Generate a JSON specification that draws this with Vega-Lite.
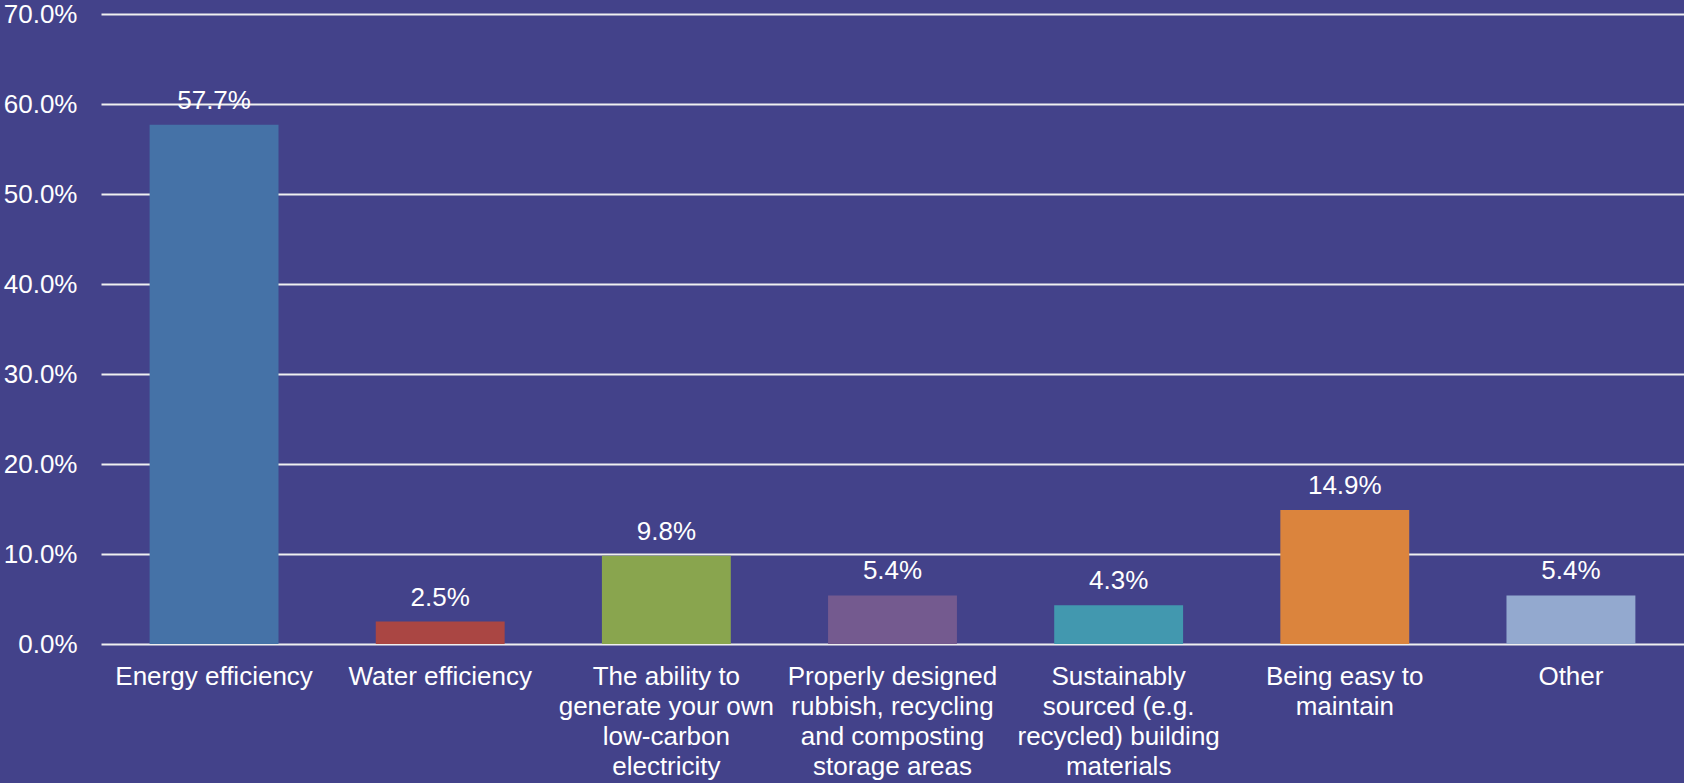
{
  "$schema": "https://vega.github.io/schema/vega-lite/v6.json",
  "width": 1583,
  "height": 630,
  "autosize": {"type": "none"},
  "padding": {"left": 101, "top": 14, "right": 0, "bottom": 139},
  "background": "#43428a",
  "config": {
    "view": {"stroke": null},
    "font": "Liberation Sans",
    "axis": {"labelColor": "#ffffff", "labelFontSize": 26, "labelFont": "Liberation Sans", "titleColor": "#ffffff"}
  },
  "data": {
    "values": [
      {"category": "Energy efficiency", "value": 0.577, "color": "#4572A7"},
      {"category": "Water efficiency", "value": 0.025, "color": "#AA4643"},
      {"category": "The ability to|generate your own|low-carbon|electricity", "value": 0.098, "color": "#89A54E"},
      {"category": "Properly designed|rubbish, recycling|and composting|storage areas", "value": 0.054, "color": "#745A8F"},
      {"category": "Sustainably|sourced (e.g.|recycled) building|materials", "value": 0.043, "color": "#4298AF"},
      {"category": "Being easy to|maintain", "value": 0.149, "color": "#DB843D"},
      {"category": "Other", "value": 0.054, "color": "#93A9CF"}
    ]
  },
  "encoding": {
    "x": {
      "field": "category",
      "type": "nominal",
      "sort": null,
      "scale": {"paddingInner": 0.43, "paddingOuter": 0.215},
      "axis": {
        "title": null,
        "labelAngle": 0,
        "labelExpr": "split(datum.label, '|')",
        "labelLineHeight": 30,
        "labelPadding": 19,
        "labelLimit": 400,
        "ticks": false,
        "domain": false,
        "grid": false
      }
    },
    "y": {
      "field": "value",
      "type": "quantitative",
      "scale": {"domain": [0, 0.7]},
      "axis": {
        "title": null,
        "format": ".1%",
        "values": [0, 0.1, 0.2, 0.3, 0.4, 0.5, 0.6, 0.7],
        "ticks": false,
        "domain": false,
        "grid": true,
        "gridColor": "#f0f0f0",
        "gridWidth": 2,
        "gridOpacity": 1,
        "labelPadding": 24
      }
    }
  },
  "layer": [
    {
      "mark": {"type": "bar"},
      "encoding": {"color": {"field": "color", "type": "nominal", "scale": null, "legend": null}}
    },
    {
      "mark": {"type": "text", "baseline": "alphabetic", "dy": -16, "fontSize": 26, "color": "#ffffff", "font": "Liberation Sans"},
      "encoding": {"text": {"field": "value", "type": "quantitative", "format": ".1%"}}
    }
  ]
}
